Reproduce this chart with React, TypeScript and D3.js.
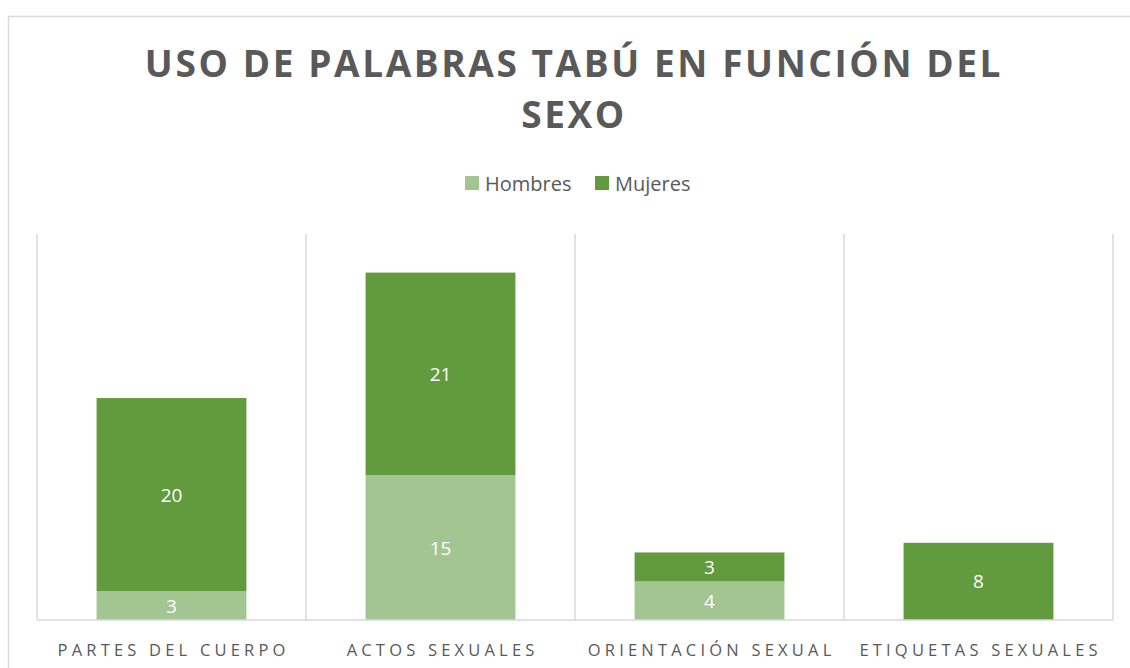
import React from "react";
import * as d3 from "d3";

const categories = ["PARTES DEL CUERPO", "ACTOS SEXUALES", "ORIENTACIÓN SEXUAL", "ETIQUETAS SEXUALES"];
const hombres = [3, 15, 4, 0];
const mujeres = [20, 21, 3, 8];
const seriesNames = ["Hombres", "Mujeres"];
const seriesColors = ["#a3c591", "#629a3e"];
const titleLines = ["USO DE PALABRAS TABÚ EN FUNCIÓN DEL", "SEXO"];

const W = 1130;
const H = 668;

export default function App() {
  const x = d3.scaleBand<string>().domain(categories).range([37, 1113]).padding(0);
  const y = d3.scaleLinear().domain([0, 40]).range([620, 234]);
  const barW = x.bandwidth() * 0.557;
  const stackData = categories.map((c, i) => ({ cat: c, Hombres: hombres[i], Mujeres: mujeres[i] }));
  const stack = d3.stack<any>().keys(seriesNames)(stackData);
  const textColor = "#595959";
  const ls = 4.2;

  return (
    <svg width={W} height={H} style={{ position: "absolute", left: 0, top: 0 }}>
      <rect x={0} y={0} width={W} height={H} fill="#fff" />
      <rect x={8.5} y={16.5} width={W + 10} height={H + 10} fill="#fff" stroke="#d9d9d9" strokeWidth={1.5} />
      {titleLines.map((t, i) => (
        <text key={i} x={574} y={77 + i * 51} textAnchor="middle" fill={textColor}
          style={{ fontFamily: "'Open Sans', sans-serif", fontWeight: 700, fontSize: 37, letterSpacing: 2.6 }}>
          {t}
        </text>
      ))}
      {/* legend */}
      {seriesNames.map((s, i) => {
        const lx = [465, 595][i];
        return (
          <g key={s}>
            <rect x={lx} y={176} width={14} height={14} fill={seriesColors[i]} />
            <text x={lx + 20} y={191} fill={textColor}
              style={{ fontFamily: "'Open Sans', sans-serif", fontSize: 20 }}>{s}</text>
          </g>
        );
      })}
      {/* separators */}
      {[...categories.map((c) => x(c)!), 1113].map((sx, i) => (
        <line key={i} x1={sx} x2={sx} y1={234} y2={620} stroke="#d9d9d9" strokeWidth={1.5} />
      ))}
      {/* bars */}
      {stack.map((layer, si) => (
        <g key={si}>
          {layer.map((d, ci) => {
            const v = d[1] - d[0];
            if (v <= 0) return null;
            const cx = x(categories[ci])! + x.bandwidth() / 2;
            return (
              <g key={ci}>
                <rect x={cx - barW / 2} y={y(d[1])} width={barW} height={y(d[0]) - y(d[1])} fill={seriesColors[si]} />
                <text x={cx} y={(y(d[0]) + y(d[1])) / 2 + 7} textAnchor="middle" fill="#fff"
                  style={{ fontFamily: "'Open Sans', sans-serif", fontSize: 19 }}>{v}</text>
              </g>
            );
          })}
        </g>
      ))}
      <line x1={37} x2={1113} y1={620} y2={620} stroke="#d9d9d9" strokeWidth={1.5} />
      {categories.map((c) => (
        <text key={c} x={x(c)! + x.bandwidth() / 2 + ls / 2} y={656} textAnchor="middle" fill={textColor}
          style={{ fontFamily: "'Open Sans', sans-serif", fontSize: 16.5, letterSpacing: ls }}>{c}</text>
      ))}
    </svg>
  );
}
